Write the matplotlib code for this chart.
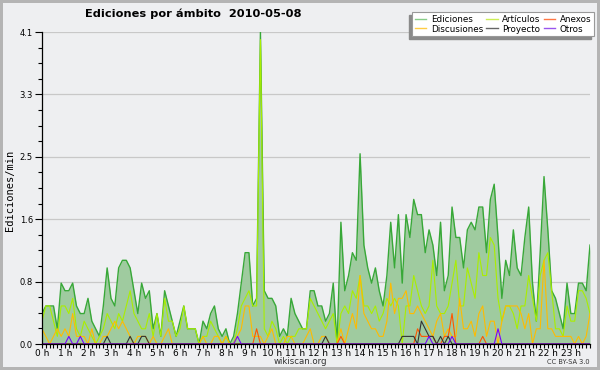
import numpy as np
import matplotlib.pyplot as plt
from matplotlib.lines import Line2D
from matplotlib.patches import Rectangle

# ediciones por minuto, cada 10 minutos (una fila = una hora)
ediciones = [
    0.4, 0.5, 0.5, 0.5, 0.2, 0.8,
    0.7, 0.7, 0.8, 0.5, 0.4, 0.4,
    0.6, 0.3, 0.2, 0.1, 0.5, 1.0,
    0.6, 0.5, 1.0, 1.1, 1.1, 1.0,
    0.7, 0.4, 0.8, 0.6, 0.7, 0.2,
    0.4, 0.1, 0.7, 0.5, 0.3, 0.1,
    0.3, 0.5, 0.2, 0.2, 0.2, 0.0,
    0.3, 0.2, 0.4, 0.5, 0.2, 0.1,
    0.2, 0.0, 0.1, 0.4, 0.8, 1.2,
    1.2, 0.5, 0.6, 4.1, 0.7, 0.6,
    0.6, 0.5, 0.1, 0.2, 0.1, 0.6,
    0.4, 0.3, 0.2, 0.2, 0.7, 0.7,
    0.5, 0.5, 0.3, 0.4, 0.8, 0.0,
    1.6, 0.7, 0.9, 1.2, 1.1, 2.5,
    1.3, 1.0, 0.8, 1.0, 0.7, 0.5,
    0.9, 1.6, 1.0, 1.7, 0.8, 1.7,
    1.4, 1.9, 1.7, 1.7, 1.2, 1.5,
    1.3, 0.9, 1.6, 0.7, 0.9, 1.8,
    1.4, 1.4, 1.0, 1.5, 1.6, 1.5,
    1.8, 1.8, 1.2, 1.9, 2.1, 1.4,
    0.6, 1.1, 0.9, 1.5, 1.0, 0.9,
    1.4, 1.8, 0.8, 0.3, 1.2, 2.2,
    1.5, 0.7, 0.6, 0.4, 0.2, 0.8,
    0.4, 0.4, 0.8, 0.8, 0.7, 1.3,
]

articulos = [
    0.3, 0.5, 0.5, 0.3, 0.1, 0.5,
    0.5, 0.4, 0.6, 0.2, 0.1, 0.3,
    0.2, 0.1, 0.0, 0.1, 0.2, 0.4,
    0.3, 0.2, 0.4, 0.3, 0.5, 0.7,
    0.4, 0.3, 0.2, 0.2, 0.4, 0.1,
    0.4, 0.1, 0.6, 0.3, 0.3, 0.1,
    0.2, 0.5, 0.2, 0.2, 0.2, 0.0,
    0.1, 0.1, 0.3, 0.2, 0.1, 0.0,
    0.1, 0.0, 0.0, 0.2, 0.5, 0.6,
    0.7, 0.5, 0.5, 4.0, 0.2, 0.1,
    0.3, 0.2, 0.0, 0.1, 0.0, 0.1,
    0.1, 0.2, 0.2, 0.2, 0.6, 0.5,
    0.4, 0.3, 0.2, 0.3, 0.4, 0.0,
    0.4, 0.5, 0.4, 0.7, 0.6, 0.9,
    0.5, 0.5, 0.4, 0.5, 0.3, 0.4,
    0.6, 0.5, 0.6, 0.5, 0.0, 0.5,
    0.5, 0.9, 0.7, 0.5, 0.4, 0.5,
    1.1, 0.5, 0.4, 0.4, 0.5, 0.8,
    1.1, 0.5, 0.5, 1.0, 0.8, 0.6,
    1.2, 0.9, 0.9, 1.4, 1.3, 0.6,
    0.3, 0.5, 0.5, 0.4, 0.2, 0.5,
    0.5, 0.9, 0.6, 0.3, 0.9, 1.1,
    1.2, 0.7, 0.2, 0.2, 0.1, 0.5,
    0.3, 0.3, 0.7, 0.7, 0.6, 0.4,
]

discusiones = [
    0.2, 0.1, 0.0, 0.1, 0.2, 0.1,
    0.2, 0.1, 0.4, 0.1, 0.1, 0.1,
    0.0, 0.2, 0.0, 0.0, 0.1, 0.1,
    0.2, 0.3, 0.2, 0.3, 0.2, 0.1,
    0.0, 0.1, 0.1, 0.1, 0.0, 0.1,
    0.0, 0.0, 0.1, 0.2, 0.0, 0.0,
    0.0, 0.0, 0.0, 0.0, 0.0, 0.0,
    0.1, 0.0, 0.0, 0.1, 0.1, 0.0,
    0.1, 0.0, 0.0, 0.1, 0.2, 0.5,
    0.5, 0.1, 0.1, 0.1, 0.0, 0.1,
    0.2, 0.0, 0.0, 0.0, 0.1, 0.1,
    0.0, 0.0, 0.0, 0.1, 0.2, 0.0,
    0.0, 0.1, 0.1, 0.0, 0.0, 0.0,
    0.2, 0.0, 0.2, 0.4, 0.2, 0.9,
    0.4, 0.3, 0.2, 0.2, 0.1, 0.1,
    0.3, 0.8, 0.4, 0.6, 0.6, 0.7,
    0.4, 0.4, 0.5, 0.4, 0.3, 0.2,
    0.1, 0.3, 0.4, 0.1, 0.2, 0.1,
    0.1, 0.6, 0.2, 0.2, 0.3, 0.1,
    0.4, 0.5, 0.1, 0.3, 0.3, 0.0,
    0.3, 0.5, 0.5, 0.5, 0.5, 0.4,
    0.2, 0.4, 0.0, 0.2, 0.2, 1.1,
    0.2, 0.2, 0.1, 0.1, 0.1, 0.1,
    0.1, 0.0, 0.1, 0.0, 0.1, 0.4,
]

anexos = [
    0, 0, 0, 0, 0, 0,
    0, 0, 0, 0, 0, 0,
    0, 0, 0, 0, 0, 0,
    0, 0, 0, 0, 0, 0,
    0, 0, 0, 0, 0, 0,
    0, 0, 0, 0, 0, 0,
    0, 0, 0, 0, 0, 0,
    0, 0, 0, 0, 0, 0,
    0, 0, 0, 0, 0, 0,
    0, 0, 0.2, 0, 0, 0,
    0, 0, 0, 0, 0, 0,
    0, 0, 0, 0, 0, 0,
    0, 0, 0, 0, 0, 0,
    0.1, 0, 0, 0, 0, 0,
    0, 0, 0, 0, 0, 0,
    0, 0, 0, 0, 0, 0,
    0, 0, 0.2, 0.1, 0.1, 0.1,
    0.1, 0, 0, 0.1, 0.1, 0.4,
    0, 0, 0, 0, 0, 0,
    0, 0.1, 0, 0, 0, 0,
    0, 0, 0, 0, 0, 0,
    0, 0, 0, 0, 0, 0,
    0, 0, 0, 0, 0, 0,
    0, 0, 0, 0, 0, 0,
]

proyecto = [
    0, 0, 0, 0, 0, 0,
    0, 0, 0, 0, 0, 0,
    0, 0, 0, 0, 0, 0.1,
    0, 0, 0, 0, 0, 0.1,
    0, 0, 0.1, 0.1, 0, 0,
    0, 0, 0, 0, 0, 0,
    0, 0, 0, 0, 0, 0,
    0, 0, 0, 0, 0, 0,
    0, 0, 0, 0, 0, 0,
    0, 0, 0, 0, 0, 0,
    0, 0, 0, 0, 0, 0,
    0, 0, 0, 0, 0, 0,
    0, 0, 0.1, 0, 0, 0,
    0, 0, 0, 0, 0, 0,
    0, 0, 0, 0, 0, 0,
    0, 0, 0, 0, 0.1, 0.1,
    0.1, 0.1, 0, 0.3, 0.2, 0.1,
    0.1, 0, 0.1, 0, 0.1, 0,
    0, 0, 0, 0, 0, 0,
    0, 0, 0, 0, 0, 0,
    0, 0, 0, 0, 0, 0,
    0, 0, 0, 0, 0, 0,
    0, 0, 0, 0, 0, 0,
    0, 0, 0, 0, 0, 0,
]

otros = [
    0, 0, 0, 0, 0, 0,
    0, 0.1, 0, 0, 0.1, 0,
    0, 0, 0, 0, 0, 0,
    0, 0, 0, 0, 0, 0,
    0, 0, 0, 0, 0, 0,
    0, 0, 0, 0, 0, 0,
    0, 0, 0, 0, 0, 0,
    0, 0, 0, 0, 0, 0,
    0, 0, 0, 0.1, 0, 0,
    0, 0, 0, 0, 0, 0,
    0, 0, 0, 0, 0, 0,
    0, 0, 0, 0, 0, 0,
    0, 0, 0, 0, 0, 0,
    0, 0, 0, 0, 0, 0,
    0, 0, 0, 0, 0, 0,
    0, 0, 0, 0, 0, 0,
    0, 0, 0, 0, 0, 0.1,
    0, 0, 0, 0, 0, 0.1,
    0, 0, 0, 0, 0, 0,
    0, 0, 0, 0, 0, 0.2,
    0, 0, 0, 0, 0, 0,
    0, 0, 0, 0, 0, 0,
    0, 0, 0, 0, 0, 0,
    0, 0, 0, 0, 0, 0,
]

horas = ['%d h' % h for h in range(24)]

bg = '#eeeff1'
x = np.arange(len(ediciones))

fig = plt.figure(figsize=(6, 3.7), dpi=100, facecolor=bg)
fig.patch.set_edgecolor('#b4b4b4')
fig.patch.set_linewidth(3)
ax = fig.add_axes([42 / 600, 26 / 370, 548 / 600, 312 / 370])
ax.set_facecolor(bg)

# area + lineas
ax.fill_between(x, ediciones, color='#9fcb9f', lw=0, zorder=1)
ax.plot(x, ediciones, color='#38a838', lw=1.0, zorder=2)
ax.plot(x, articulos, color='#aaee00', lw=0.8, zorder=2)
ax.plot(x, discusiones, color='#ffbb00', lw=0.8, zorder=2)
ax.plot(x, anexos, color='#ff5500', lw=0.8, zorder=2)
ax.plot(x, proyecto, color='#333333', lw=0.8, zorder=2)
ax.plot(x, otros, color='#7700ff', lw=0.8, zorder=2)

ymax = 4.1
ax.set_xlim(0, len(x) - 1)
ax.set_ylim(0, ymax)

yt = np.linspace(0, ymax, 6)
ax.set_yticks(yt)
ax.set_yticklabels(['%.1f' % v for v in yt], fontsize=6)
ax.set_yticks(np.linspace(0, ymax, 21), minor=True)
ax.set_xticks(np.arange(0, len(x), 6))
ax.set_xticklabels(horas, fontsize=6.5)
ax.set_xticks(x, minor=True)

ax.tick_params(axis='y', which='major', length=5, width=0.8, color='black', pad=1.5)
ax.tick_params(axis='y', which='minor', length=3, width=0.8, color='black')
ax.tick_params(axis='x', which='both', length=3, width=0.8, color='black', pad=0.5)
ax.yaxis.grid(True, which='major', color='#c8c8c8', lw=0.9)
ax.set_axisbelow(True)
for s in ['top', 'right']:
    ax.spines[s].set_visible(False)
for s in ['left', 'bottom']:
    ax.spines[s].set_linewidth(0.9)

fig.text(10 / 600, 1 - 190 / 370, 'Ediciones/min', rotation=90, fontsize=7.5,
         family='DejaVu Sans Mono', ha='center', va='center')
fig.text(85 / 600, 1 - 14 / 370, 'Ediciones por ámbito  2010-05-08',
         fontsize=8.2, fontweight='bold', ha='left', va='center')
fig.text(0.5, 1 - 362 / 370, 'wikiscan.org', fontsize=6.2, ha='center', va='center', color='#333333')
fig.text(590 / 600, 1 - 362 / 370, 'CC BY-SA 3.0', fontsize=4.8, ha='right', va='center', color='#333333')

# leyenda
etiquetas = ['Ediciones', 'Discusiones', 'Artículos', 'Proyecto', 'Anexos', 'Otros']
colores_ley = ['#88cc88', '#ffcc44', '#ccee55', '#666666', '#ff7744', '#9955ee']
handles = [Line2D([], [], color=c, lw=1) for c in colores_ley]
leg = fig.legend(handles, etiquetas, ncol=3, loc='upper right',
                 bbox_to_anchor=(594 / 600, 1 - 12 / 370), fontsize=6.3,
                 frameon=True, fancybox=False, edgecolor='#999999', facecolor='white',
                 framealpha=1, handlelength=1.3, handletextpad=0.5, columnspacing=0.4,
                 labelspacing=0.1, borderpad=0.3, borderaxespad=0)
leg.get_frame().set_linewidth(0.8)
leg.set_zorder(5)

fig.canvas.draw()
bb = leg.get_window_extent().transformed(fig.transFigure.inverted())
sombra = Rectangle((bb.x0 - 3 / 600, bb.y0 - 3 / 370), bb.width, bb.height,
                   transform=fig.transFigure, color='#8a8a8a', zorder=4)
fig.add_artist(sombra)

fig.savefig('out.png', dpi=100, facecolor=bg)
